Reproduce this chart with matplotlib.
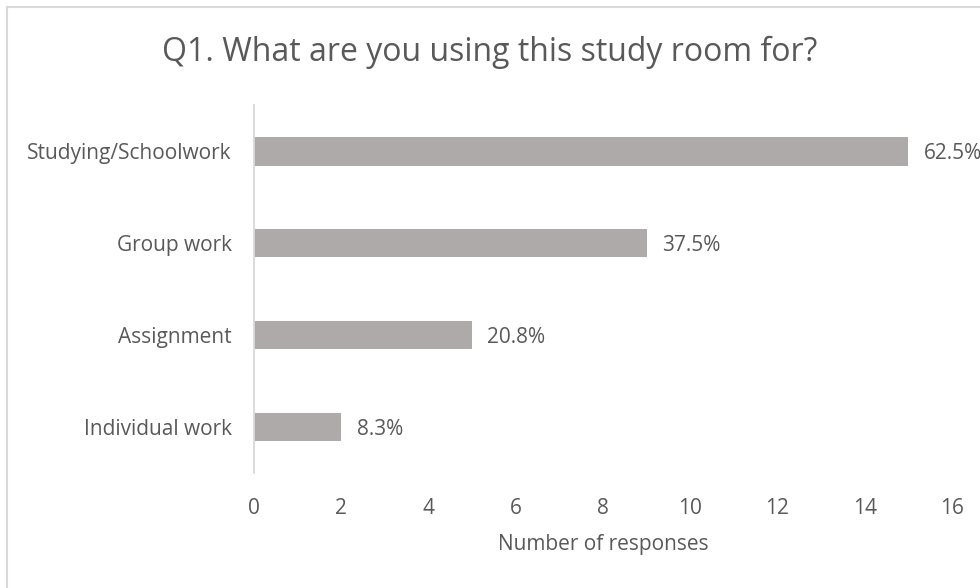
import matplotlib
matplotlib.use("Agg")
import matplotlib.pyplot as plt
from matplotlib.lines import Line2D

categories = ["Studying/Schoolwork", "Group work", "Assignment", "Individual work"]
responses = [15, 9, 5, 2]
percent_labels = ["62.5%", "37.5%", "20.8%", "8.3%"]
x_ticks = [0, 2, 4, 6, 8, 10, 12, 14, 16]

plt.rcParams["font.family"] = ["Open Sans", "DejaVu Sans"]
text_color = "#595959"
bar_color = "#ADAAA9"
label_size = 15

fig = plt.figure(figsize=(9.8, 5.88), dpi=100)
ax = fig.add_axes([0.2592, 0.1956, 0.7122, 0.6258])

ypos = list(range(len(categories)))
ax.barh(ypos, responses, height=0.315, color=bar_color)
ax.set_ylim(len(categories) - 0.5, -0.5)
ax.set_xlim(0, 16)
ax.set_xticks(x_ticks)
ax.set_xticklabels([str(t) for t in x_ticks])
ax.set_yticks(ypos)
ax.set_yticklabels(categories)

for spine in ["top", "right", "bottom"]:
    ax.spines[spine].set_visible(False)
ax.spines["left"].set_color("#D9D9D9")
ax.spines["left"].set_linewidth(1.3)

ax.tick_params(axis="both", length=0, colors=text_color, labelsize=label_size)
ax.tick_params(axis="y", pad=16)
ax.tick_params(axis="x", pad=18)

ax.set_xlabel("Number of responses", color=text_color, fontsize=label_size, labelpad=11)

for y, v, lab in zip(ypos, responses, percent_labels):
    ax.annotate(lab, xy=(v, y), xytext=(11, -1.5), textcoords="offset points",
                va="center", ha="left", color=text_color, fontsize=label_size,
                annotation_clip=False)

fig.text(0.5, 1 - 52 / 588, "Q1. What are you using this study room for?",
         ha="center", va="center", color=text_color, fontsize=23)

# light frame around the chart area
frame_kw = dict(transform=fig.transFigure, color="#D9D9D9", linewidth=1.5)
fig.add_artist(Line2D([7 / 980, 7 / 980], [0, 1 - 7 / 588], **frame_kw))
fig.add_artist(Line2D([7 / 980, 1], [1 - 7 / 588, 1 - 7 / 588], **frame_kw))

fig.savefig("out.png", dpi=100)
